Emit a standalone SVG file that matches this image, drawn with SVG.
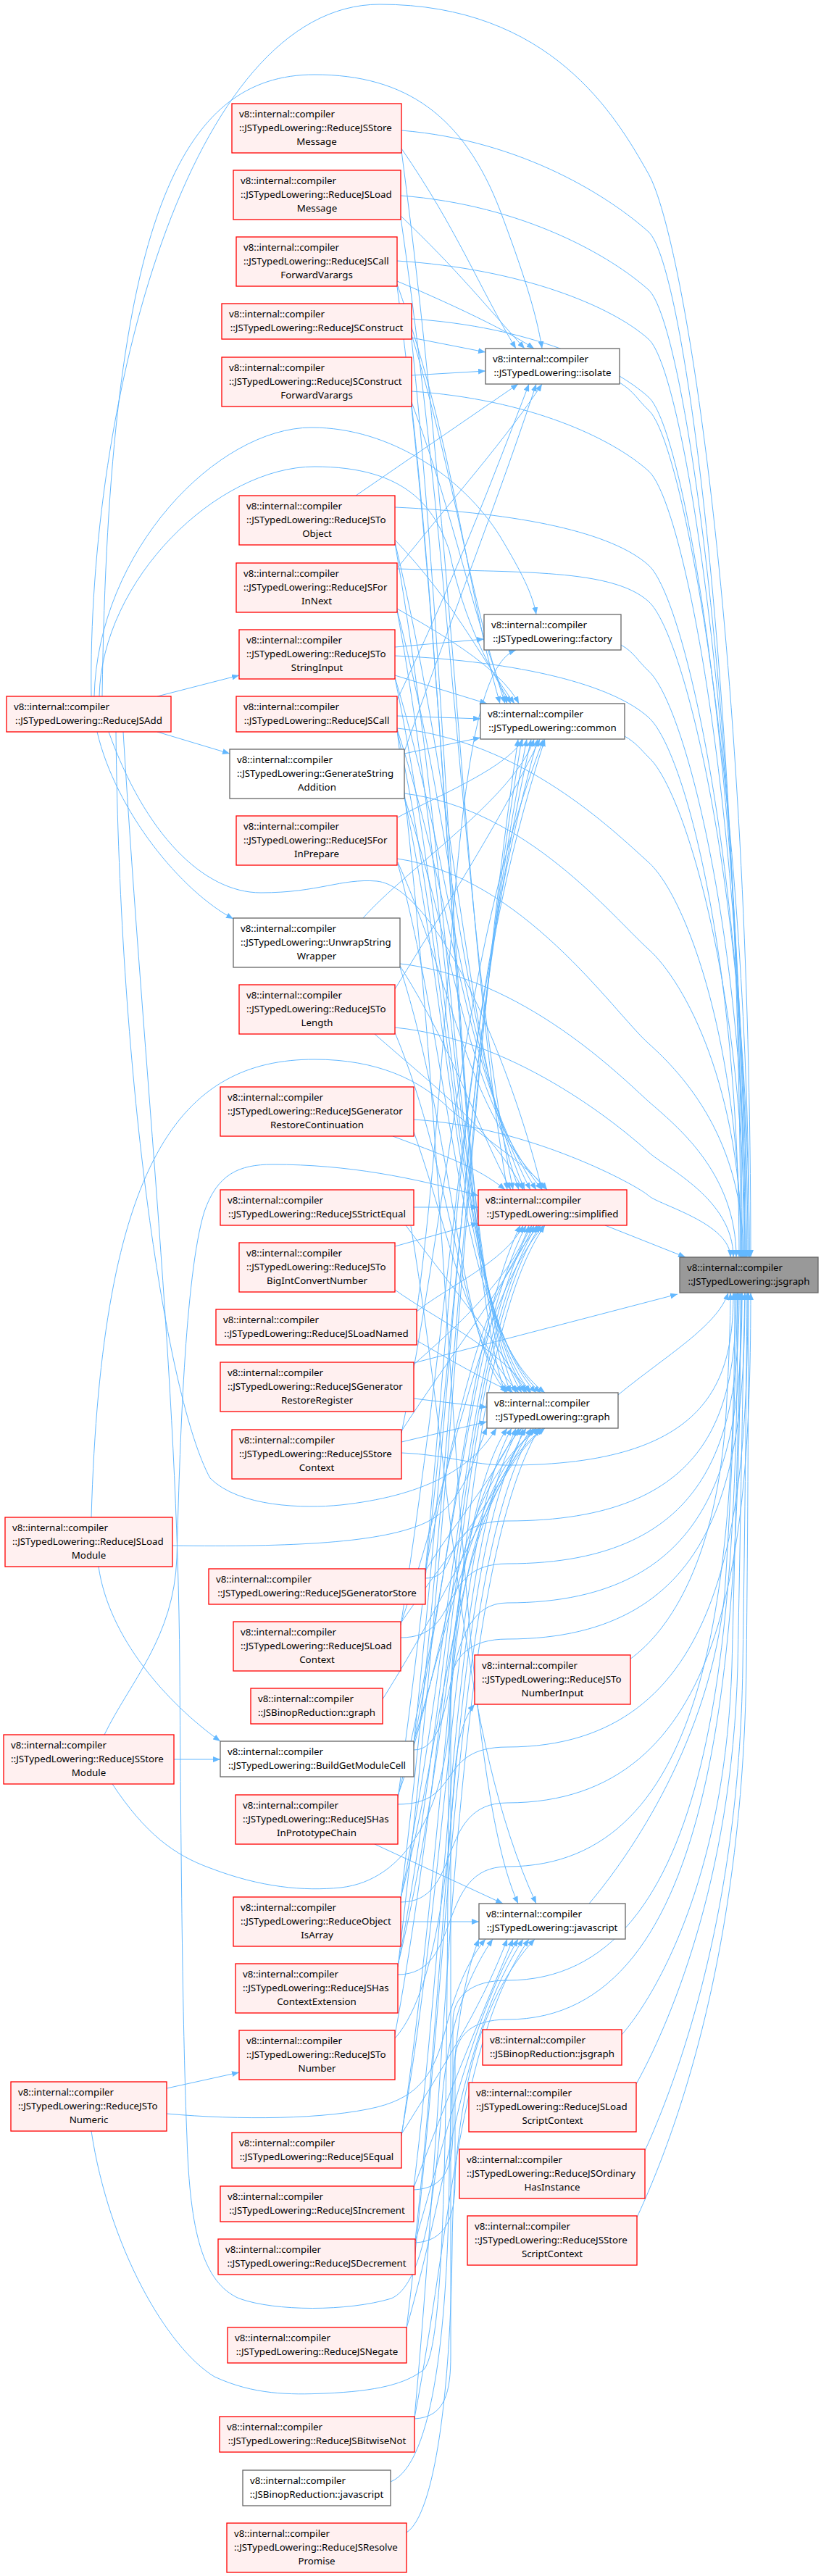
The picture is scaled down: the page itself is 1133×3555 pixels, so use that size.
<svg xmlns="http://www.w3.org/2000/svg" width="1133" height="3555" viewBox="0 0 1133 3555">
<defs>
<marker id="a" markerWidth="10" markerHeight="8" refX="10" refY="4" orient="auto" markerUnits="userSpaceOnUse"><path d="M0,0 L10,4 L0,8 z" fill="#63b8ff"/></marker>
<style>
.e path{fill:none;stroke:#63b8ff;stroke-width:1;marker-end:url(#a)}
.nr rect{fill:#fff0f0;stroke:#ff0000;stroke-width:1.3}
.ng rect{fill:#ffffff;stroke:#666666;stroke-width:1.3}
.nt rect{fill:#999999;stroke:#666666;stroke-width:1.3}
text{font-family:"Noto Sans","Liberation Sans",sans-serif;font-size:13.3px;fill:#000}
.c{text-anchor:middle}
</style>
</defs>
<rect width="1133" height="3555" fill="#ffffff"/>
<g id="edges" class="e">
<path d="M855,528 C875,540 880,552 895,566 C945,611 1034,1120 1034,1735"/>
<path d="M857,890 C875,900 880,912 895,926 C945,971 1030,1300 1030,1735"/>
<path d="M862,1016 C878,1025 885,1035 895,1045 C945,1090 1028,1370 1028,1735"/>
<path d="M835,1691 L946,1735"/>
<path d="M853,1925 C920,1870 990,1830 1005,1784"/>
<path d="M869,2290 C925,2250 990,2150 1002,1950 C1006,1880 1008,1820 1008,1784"/>
<path d="M813,2627 C870,2560 980,2400 1000,2200 C1010,2050 1015,1900 1018,1784"/>
<path d="M858,2808 C900,2760 1000,2600 1010,2300 C1015,2100 1020,1900 1024,1784"/>
<path d="M878,2876 C920,2800 1010,2600 1018,2300 C1022,2100 1025,1900 1028,1784"/>
<path d="M890,2968 C930,2880 1020,2650 1025,2300 C1028,2100 1030,1900 1031,1784"/>
<path d="M879,3060 C930,2950 1025,2700 1030,2300 C1032,2100 1033,1900 1033,1784"/>
<path d="M126,961 C120,560 260,6 524,6 C760,6 850,160 895,240 C945,330 1036,900 1036,1735"/>
<path d="M141,961 C150,300 250,103 434,103 C560,103 640,160 690,290 C720,370 740,430 748,481"/>
<path d="M130,961 C135,760 300,590 430,590 C540,590 640,660 690,740 C720,790 735,820 740,848"/>
<path d="M137,961 C140,800 300,644 434,644 C560,644 600,700 620,760 C640,860 680,930 705,971"/>
<path d="M217,961 L330,932"/>
<path d="M217,1010 L317,1040"/>
<path d="M134,1010 C160,1120 250,1230 322,1268"/>
<path d="M150,1010 C200,1150 280,1232 360,1232 C440,1232 470,1212 520,1216 C600,1225 700,1450 748,1642"/>
<path d="M160,1010 C165,1500 230,1930 290,2040 C330,2080 420,2082 470,2077 C580,2065 650,2030 685,1971"/>
<path d="M170,1010 C200,1500 245,1900 248,2300 C250,2600 252,2800 258,2950 C262,3080 280,3150 330,3172 C380,3190 480,3190 540,3172 C580,3155 600,3050 610,2900 C618,2790 650,2720 680,2676"/>
<path d="M136,2162 C150,2260 230,2350 304,2403"/>
<path d="M126,2094 C140,1600 250,1462 434,1462 C520,1462 580,1490 620,1530 C680,1580 730,1610 755,1642"/>
<path d="M238,2133 C400,2135 530,2130 590,2100 C640,2075 655,2010 672,1970"/>
<path d="M240,2428 L304,2428"/>
<path d="M144,2394 C180,2320 240,2260 244,2150 C248,2000 255,1760 282,1672 C300,1620 330,1607 376,1607 C480,1607 570,1625 660,1650"/>
<path d="M155,2462 C200,2530 240,2560 290,2578 C360,2605 420,2610 470,2605 C560,2595 610,2500 620,2380 C630,2200 660,2040 750,1971"/>
<path d="M230,2882 L330,2860"/>
<path d="M230,2917 C330,2926 450,2925 520,2908 C580,2893 600,2860 615,2800 C630,2740 650,2700 670,2676"/>
<path d="M126,2941 C150,3100 230,3240 296,3280 C350,3305 400,3305 448,3303 C520,3300 560,3290 585,3270 C620,3230 615,2800 620,2400 C623,2200 650,2050 720,1971"/>
<path d="M554,180 C724,194 845,275 895,320 C945,365 1022,957 1022,1735"/>
<path d="M553,270 C724,283 845,355 895,400 C945,445 1024,1001 1024,1735"/>
<path d="M548,360 C721,371 845,423 895,468 C945,513 1026,1038 1026,1735"/>
<path d="M568,440 C731,451 845,503 895,548 C945,593 1028,1082 1028,1735"/>
<path d="M568,540 C731,551 845,605 895,650 C945,695 1030,1138 1030,1735"/>
<path d="M545,700 C720,708 845,735 895,780 C945,825 1032,1210 1032,1735"/>
<path d="M548,785 C721,790 845,785 895,830 C945,875 1034,1237 1034,1735"/>
<path d="M545,905 C720,913 845,945 895,990 C945,1035 1020,1325 1020,1735"/>
<path d="M548,1005 C721,1023 845,1145 895,1190 C945,1235 1022,1435 1022,1735"/>
<path d="M558,1095 C726,1116 845,1265 895,1310 C945,1355 1024,1501 1024,1735"/>
<path d="M548,1185 C721,1210 845,1395 895,1440 C944,1484 1026,1573 1026,1735"/>
<path d="M552,1330 C723,1349 859,1488 895,1520 C931,1552 1016,1617 1016,1735"/>
<path d="M545,1418 C720,1435 871,1568 895,1590 C919,1612 1012,1655 1012,1735"/>
<path d="M571,1545 C733,1555 881,1637 895,1650 C909,1663 1008,1688 1008,1735"/>
<path d="M571,1881 L935,1786"/>
<path d="M554,2005 C620,2008 650,2022 700,2022 C982,2022 1012,1903 1012,1784"/>
<path d="M587,2178 C640,2178 600,2099 700,2099 C986,2099 1016,1942 1016,1784"/>
<path d="M553,2260 C640,2260 600,2158 700,2158 C990,2158 1020,1971 1020,1784"/>
<path d="M571,2415 C640,2415 600,2212 700,2212 C994,2212 1024,1998 1024,1784"/>
<path d="M572,3338 C615,3336 622,3300 622,3250 L622,2330 C622,2285 650,2262 700,2262 C998,2262 1028,2023 1028,1784"/>
<path d="M549,2490 C640,2490 600,2411 700,2411 C1002,2411 1032,2098 1032,1784"/>
<path d="M553,2625 C640,2625 600,2488 700,2488 C1006,2488 1036,2136 1036,1784"/>
<path d="M549,2725 C640,2725 600,2576 700,2576 C984,2576 1014,2180 1014,1784"/>
<path d="M571,3022 C615,3020 625,2990 625,2940 L625,2790 C625,2755 650,2733 700,2733 C988,2733 1018,2258 1018,1784"/>
<path d="M573,3095 C615,3093 628,3060 628,3010 L628,2845 C628,2810 650,2787 700,2787 C992,2787 1022,2286 1022,1784"/>
<path d="M554,205 C630,315 662,398 712,481"/>
<path d="M553,298 C630,371 674,426 724,481"/>
<path d="M548,388 C600,410 690,450 737,481"/>
<path d="M568,466 L670,486"/>
<path d="M568,518 L670,512"/>
<path d="M491,684 L715,530"/>
<path d="M549,783 C630,682 698,606 748,530"/>
<path d="M548,966 C630,792 680,661 730,530"/>
<path d="M558,1037 C630,834 690,682 740,530"/>
<path d="M545,893 L668,882"/>
<path d="M575,1810 C630,1400 620,930 712,897"/>
<path d="M548,392 C630,624 640,797 690,971"/>
<path d="M568,462 C630,668 647,819 697,971"/>
<path d="M568,555 C630,721 650,846 700,971"/>
<path d="M545,745 C630,835 660,903 710,971"/>
<path d="M548,840 C600,870 690,920 716,971"/>
<path d="M545,932 L672,971"/>
<path d="M548,988 L663,992"/>
<path d="M558,1040 L663,1018"/>
<path d="M549,1128 C600,1100 700,1060 722,1020"/>
<path d="M501,1267 C560,1200 710,1100 737,1020"/>
<path d="M545,1365 C630,1227 695,1124 745,1020"/>
<path d="M554,1978 C630,1595 640,1307 750,1020"/>
<path d="M587,2168 C630,1709 640,1364 752,1020"/>
<path d="M553,2243 C630,1754 640,1387 742,1020"/>
<path d="M571,2406 C630,1852 640,1436 733,1020"/>
<path d="M549,2482 C630,1897 640,1459 727,1020"/>
<path d="M553,2622 C630,1981 640,1501 720,1020"/>
<path d="M549,2715 C630,2037 640,1529 715,1020"/>
<path d="M554,208 C630,782 640,1283 700,1642"/>
<path d="M553,300 C630,837 640,1306 708,1642"/>
<path d="M545,748 C630,1106 640,1418 716,1642"/>
<path d="M548,842 C630,1162 640,1442 724,1642"/>
<path d="M545,935 C630,1218 640,1465 732,1642"/>
<path d="M548,1006 C630,1260 640,1483 740,1642"/>
<path d="M558,1100 C630,1317 640,1506 748,1642"/>
<path d="M549,1190 C630,1371 640,1529 755,1642"/>
<path d="M552,1333 C630,1457 655,1549 705,1642"/>
<path d="M517,1427 C600,1500 680,1560 722,1642"/>
<path d="M542,1568 C600,1590 660,1610 697,1642"/>
<path d="M571,1666 L660,1666"/>
<path d="M545,1720 L660,1688"/>
<path d="M575,1810 C610,1780 700,1740 722,1691"/>
<path d="M571,1883 C620,1840 710,1760 730,1691"/>
<path d="M554,1975 C628,1861 697,1776 737,1691"/>
<path d="M587,2166 C628,1976 660,1786 744,1691"/>
<path d="M553,2241 C628,2021 660,1801 750,1691"/>
<path d="M571,2404 C628,2119 650,1834 718,1691"/>
<path d="M549,2480 C628,2164 645,1850 726,1691"/>
<path d="M553,2620 C628,2248 640,1860 734,1691"/>
<path d="M549,2713 C628,2304 636,1860 741,1691"/>
<path d="M545,2808 C628,2361 634,1860 746,1691"/>
<path d="M554,2948 C628,2445 632,1860 752,1691"/>
<path d="M548,395 C628,1006 632,1739 697,1922"/>
<path d="M568,468 C628,1048 632,1747 705,1922"/>
<path d="M568,558 C628,1104 632,1758 712,1922"/>
<path d="M545,750 C628,1219 632,1781 720,1922"/>
<path d="M548,843 C628,1275 632,1793 727,1922"/>
<path d="M545,936 C628,1330 632,1804 733,1922"/>
<path d="M548,1008 C628,1374 632,1812 740,1922"/>
<path d="M558,1101 C628,1429 632,1823 746,1922"/>
<path d="M549,1192 C628,1484 632,1834 752,1922"/>
<path d="M552,1335 C628,1570 632,1852 700,1922"/>
<path d="M545,1425 C628,1624 635,1862 708,1922"/>
<path d="M571,1562 C620,1700 645,1850 716,1922"/>
<path d="M560,1691 C610,1760 680,1840 724,1922"/>
<path d="M545,1780 C600,1820 690,1860 731,1922"/>
<path d="M575,1850 C610,1870 660,1900 704,1920"/>
<path d="M571,1930 L672,1942"/>
<path d="M554,1990 L672,1962"/>
<path d="M587,2168 C628,2100 690,2030 712,1971"/>
<path d="M553,2240 C628,2130 702,2050 722,1971"/>
<path d="M528,2345 C622,2195 680,2060 733,1971"/>
<path d="M571,2404 C622,2231 660,2037 740,1971"/>
<path d="M549,2478 C622,2275 626,2047 746,1971"/>
<path d="M553,2619 C622,2360 626,2068 752,1971"/>
<path d="M549,2712 C622,2416 626,2082 700,1971"/>
<path d="M554,2946 C622,2556 626,2117 706,1971"/>
<path d="M571,3018 C622,2599 626,2128 716,1971"/>
<path d="M573,3092 C622,2644 626,2139 726,1971"/>
<path d="M561,3213 C622,2716 626,2157 736,1971"/>
<path d="M572,3336 C622,2790 626,2176 744,1971"/>
<path d="M548,1008 C628,1656 626,2433 715,2627"/>
<path d="M567,1692 C628,2066 632,2393 740,2627"/>
<path d="M517,2545 L694,2627"/>
<path d="M553,2652 L661,2652"/>
<path d="M554,2945 C622,2837 670,2757 700,2676"/>
<path d="M571,3019 C622,2882 665,2779 708,2676"/>
<path d="M573,3093 C622,2926 655,2780 715,2676"/>
<path d="M561,3213 C622,2998 636,2810 722,2676"/>
<path d="M572,3337 C622,3073 632,2820 730,2676"/>
<path d="M539,3425 C600,3400 618,3200 620,3000 C622,2850 635,2740 661,2676"/>
<path d="M561,3495 C600,3470 622,3300 624,3100 C626,2900 660,2760 738,2676"/>
<path d="M545,2813 C610,2740 622,2520 628,2440 C632,2400 640,2370 655,2352"/>
</g>
<g id="jsgraph" class="nt"><rect x="938" y="1735" width="191" height="49"/><text x="948" y="1754">v8::internal::compiler</text><text class="c" x="1033.5" y="1773">::JSTypedLowering::jsgraph</text></g>
<g id="isolate" class="ng"><rect x="670" y="481" width="185" height="49"/><text x="680" y="500">v8::internal::compiler</text><text class="c" x="762.5" y="519">::JSTypedLowering::isolate</text></g>
<g id="factory" class="ng"><rect x="668" y="848" width="189" height="49"/><text x="678" y="867">v8::internal::compiler</text><text class="c" x="762.5" y="886">::JSTypedLowering::factory</text></g>
<g id="common" class="ng"><rect x="663" y="971" width="199" height="49"/><text x="673" y="990">v8::internal::compiler</text><text class="c" x="762.5" y="1009">::JSTypedLowering::common</text></g>
<g id="simplified" class="nr"><rect x="660" y="1642" width="205" height="49"/><text x="670" y="1661">v8::internal::compiler</text><text class="c" x="762.5" y="1680">::JSTypedLowering::simplified</text></g>
<g id="graph" class="ng"><rect x="672" y="1922" width="181" height="49"/><text x="682" y="1941">v8::internal::compiler</text><text class="c" x="762.5" y="1960">::JSTypedLowering::graph</text></g>
<g id="toNumberInput" class="nr"><rect x="655" y="2284" width="215" height="68"/><text x="665" y="2303">v8::internal::compiler</text><text x="665" y="2322">::JSTypedLowering::ReduceJSTo</text><text class="c" x="762.5" y="2341">NumberInput</text></g>
<g id="javascript" class="ng"><rect x="661" y="2627" width="202" height="49"/><text x="671" y="2646">v8::internal::compiler</text><text class="c" x="762" y="2665">::JSTypedLowering::javascript</text></g>
<g id="binopJsgraph" class="nr"><rect x="666" y="2801" width="192" height="49"/><text x="676" y="2820">v8::internal::compiler</text><text class="c" x="762" y="2839">::JSBinopReduction::jsgraph</text></g>
<g id="loadScriptContext" class="nr"><rect x="647" y="2874" width="231" height="68"/><text x="657" y="2893">v8::internal::compiler</text><text x="657" y="2912">::JSTypedLowering::ReduceJSLoad</text><text class="c" x="762.5" y="2931">ScriptContext</text></g>
<g id="ordinaryHasInstance" class="nr"><rect x="634" y="2966" width="256" height="68"/><text x="644" y="2985">v8::internal::compiler</text><text x="644" y="3004">::JSTypedLowering::ReduceJSOrdinary</text><text class="c" x="762" y="3023">HasInstance</text></g>
<g id="storeScriptContext" class="nr"><rect x="645" y="3058" width="234" height="68"/><text x="655" y="3077">v8::internal::compiler</text><text x="655" y="3096">::JSTypedLowering::ReduceJSStore</text><text class="c" x="762" y="3115">ScriptContext</text></g>
<g id="jsAdd" class="nr"><rect x="9" y="961" width="227" height="49"/><text x="19" y="980">v8::internal::compiler</text><text class="c" x="122.5" y="999">::JSTypedLowering::ReduceJSAdd</text></g>
<g id="loadModule" class="nr"><rect x="7" y="2094" width="231" height="68"/><text x="17" y="2113">v8::internal::compiler</text><text x="17" y="2132">::JSTypedLowering::ReduceJSLoad</text><text class="c" x="122.5" y="2151">Module</text></g>
<g id="storeModule" class="nr"><rect x="5" y="2394" width="235" height="68"/><text x="15" y="2413">v8::internal::compiler</text><text x="15" y="2432">::JSTypedLowering::ReduceJSStore</text><text class="c" x="122.5" y="2451">Module</text></g>
<g id="toNumeric" class="nr"><rect x="15" y="2873" width="215" height="68"/><text x="25" y="2892">v8::internal::compiler</text><text x="25" y="2911">::JSTypedLowering::ReduceJSTo</text><text class="c" x="122.5" y="2930">Numeric</text></g>
<g id="storeMessage" class="nr"><rect x="320" y="143" width="234" height="68"/><text x="330" y="162">v8::internal::compiler</text><text x="330" y="181">::JSTypedLowering::ReduceJSStore</text><text class="c" x="437" y="200">Message</text></g>
<g id="loadMessage" class="nr"><rect x="322" y="235" width="231" height="68"/><text x="332" y="254">v8::internal::compiler</text><text x="332" y="273">::JSTypedLowering::ReduceJSLoad</text><text class="c" x="437.5" y="292">Message</text></g>
<g id="callForwardVarargs" class="nr"><rect x="326" y="327" width="222" height="68"/><text x="336" y="346">v8::internal::compiler</text><text x="336" y="365">::JSTypedLowering::ReduceJSCall</text><text class="c" x="437" y="384">ForwardVarargs</text></g>
<g id="construct" class="nr"><rect x="306" y="419" width="262" height="49"/><text x="316" y="438">v8::internal::compiler</text><text class="c" x="437" y="457">::JSTypedLowering::ReduceJSConstruct</text></g>
<g id="constructForwardVarargs" class="nr"><rect x="306" y="493" width="262" height="68"/><text x="316" y="512">v8::internal::compiler</text><text x="316" y="531">::JSTypedLowering::ReduceJSConstruct</text><text class="c" x="437" y="550">ForwardVarargs</text></g>
<g id="toObject" class="nr"><rect x="330" y="684" width="215" height="68"/><text x="340" y="703">v8::internal::compiler</text><text x="340" y="722">::JSTypedLowering::ReduceJSTo</text><text class="c" x="437.5" y="741">Object</text></g>
<g id="forInNext" class="nr"><rect x="326" y="777" width="222" height="68"/><text x="336" y="796">v8::internal::compiler</text><text x="336" y="815">::JSTypedLowering::ReduceJSFor</text><text class="c" x="437" y="834">InNext</text></g>
<g id="toStringInput" class="nr"><rect x="330" y="869" width="215" height="68"/><text x="340" y="888">v8::internal::compiler</text><text x="340" y="907">::JSTypedLowering::ReduceJSTo</text><text class="c" x="437.5" y="926">StringInput</text></g>
<g id="jsCall" class="nr"><rect x="326" y="961" width="222" height="49"/><text x="336" y="980">v8::internal::compiler</text><text class="c" x="437" y="999">::JSTypedLowering::ReduceJSCall</text></g>
<g id="generateStringAddition" class="ng"><rect x="317" y="1034" width="241" height="68"/><text x="327" y="1053">v8::internal::compiler</text><text x="327" y="1072">::JSTypedLowering::GenerateString</text><text class="c" x="437.5" y="1091">Addition</text></g>
<g id="forInPrepare" class="nr"><rect x="326" y="1126" width="222" height="68"/><text x="336" y="1145">v8::internal::compiler</text><text x="336" y="1164">::JSTypedLowering::ReduceJSFor</text><text class="c" x="437" y="1183">InPrepare</text></g>
<g id="unwrapStringWrapper" class="ng"><rect x="322" y="1267" width="230" height="68"/><text x="332" y="1286">v8::internal::compiler</text><text x="332" y="1305">::JSTypedLowering::UnwrapString</text><text class="c" x="437" y="1324">Wrapper</text></g>
<g id="toLength" class="nr"><rect x="330" y="1359" width="215" height="68"/><text x="340" y="1378">v8::internal::compiler</text><text x="340" y="1397">::JSTypedLowering::ReduceJSTo</text><text class="c" x="437.5" y="1416">Length</text></g>
<g id="genRestoreContinuation" class="nr"><rect x="304" y="1500" width="267" height="68"/><text x="314" y="1519">v8::internal::compiler</text><text x="314" y="1538">::JSTypedLowering::ReduceJSGenerator</text><text class="c" x="437.5" y="1557">RestoreContinuation</text></g>
<g id="strictEqual" class="nr"><rect x="304" y="1642" width="267" height="49"/><text x="314" y="1661">v8::internal::compiler</text><text class="c" x="437.5" y="1680">::JSTypedLowering::ReduceJSStrictEqual</text></g>
<g id="toBigIntConvertNumber" class="nr"><rect x="330" y="1715" width="215" height="68"/><text x="340" y="1734">v8::internal::compiler</text><text x="340" y="1753">::JSTypedLowering::ReduceJSTo</text><text class="c" x="437.5" y="1772">BigIntConvertNumber</text></g>
<g id="loadNamed" class="nr"><rect x="298" y="1807" width="277" height="49"/><text x="308" y="1826">v8::internal::compiler</text><text class="c" x="436.5" y="1845">::JSTypedLowering::ReduceJSLoadNamed</text></g>
<g id="genRestoreRegister" class="nr"><rect x="304" y="1880" width="267" height="68"/><text x="314" y="1899">v8::internal::compiler</text><text x="314" y="1918">::JSTypedLowering::ReduceJSGenerator</text><text class="c" x="437.5" y="1937">RestoreRegister</text></g>
<g id="storeContext" class="nr"><rect x="320" y="1973" width="234" height="68"/><text x="330" y="1992">v8::internal::compiler</text><text x="330" y="2011">::JSTypedLowering::ReduceJSStore</text><text class="c" x="437" y="2030">Context</text></g>
<g id="generatorStore" class="nr"><rect x="288" y="2165" width="299" height="49"/><text x="298" y="2184">v8::internal::compiler</text><text class="c" x="437.5" y="2203">::JSTypedLowering::ReduceJSGeneratorStore</text></g>
<g id="loadContext" class="nr"><rect x="322" y="2238" width="231" height="68"/><text x="332" y="2257">v8::internal::compiler</text><text x="332" y="2276">::JSTypedLowering::ReduceJSLoad</text><text class="c" x="437.5" y="2295">Context</text></g>
<g id="binopGraph" class="nr"><rect x="346" y="2330" width="182" height="49"/><text x="356" y="2349">v8::internal::compiler</text><text class="c" x="437" y="2368">::JSBinopReduction::graph</text></g>
<g id="buildGetModuleCell" class="ng"><rect x="304" y="2403" width="267" height="49"/><text x="314" y="2422">v8::internal::compiler</text><text class="c" x="437.5" y="2441">::JSTypedLowering::BuildGetModuleCell</text></g>
<g id="hasInPrototypeChain" class="nr"><rect x="325" y="2477" width="224" height="68"/><text x="335" y="2496">v8::internal::compiler</text><text x="335" y="2515">::JSTypedLowering::ReduceJSHas</text><text class="c" x="437" y="2534">InPrototypeChain</text></g>
<g id="objectIsArray" class="nr"><rect x="322" y="2618" width="231" height="68"/><text x="332" y="2637">v8::internal::compiler</text><text x="332" y="2656">::JSTypedLowering::ReduceObject</text><text class="c" x="437.5" y="2675">IsArray</text></g>
<g id="hasContextExtension" class="nr"><rect x="325" y="2710" width="224" height="68"/><text x="335" y="2729">v8::internal::compiler</text><text x="335" y="2748">::JSTypedLowering::ReduceJSHas</text><text class="c" x="437" y="2767">ContextExtension</text></g>
<g id="toNumber" class="nr"><rect x="330" y="2802" width="215" height="68"/><text x="340" y="2821">v8::internal::compiler</text><text x="340" y="2840">::JSTypedLowering::ReduceJSTo</text><text class="c" x="437.5" y="2859">Number</text></g>
<g id="jsEqual" class="nr"><rect x="320" y="2943" width="234" height="49"/><text x="330" y="2962">v8::internal::compiler</text><text class="c" x="437" y="2981">::JSTypedLowering::ReduceJSEqual</text></g>
<g id="increment" class="nr"><rect x="304" y="3017" width="267" height="49"/><text x="314" y="3036">v8::internal::compiler</text><text class="c" x="437.5" y="3055">::JSTypedLowering::ReduceJSIncrement</text></g>
<g id="decrement" class="nr"><rect x="301" y="3090" width="272" height="49"/><text x="311" y="3109">v8::internal::compiler</text><text class="c" x="437" y="3128">::JSTypedLowering::ReduceJSDecrement</text></g>
<g id="negate" class="nr"><rect x="314" y="3212" width="247" height="49"/><text x="324" y="3231">v8::internal::compiler</text><text class="c" x="437.5" y="3250">::JSTypedLowering::ReduceJSNegate</text></g>
<g id="bitwiseNot" class="nr"><rect x="303" y="3335" width="269" height="49"/><text x="313" y="3354">v8::internal::compiler</text><text class="c" x="437.5" y="3373">::JSTypedLowering::ReduceJSBitwiseNot</text></g>
<g id="binopJavascript" class="ng"><rect x="335" y="3409" width="204" height="49"/><text x="345" y="3428">v8::internal::compiler</text><text class="c" x="437" y="3447">::JSBinopReduction::javascript</text></g>
<g id="resolvePromise" class="nr"><rect x="313" y="3482" width="248" height="68"/><text x="323" y="3501">v8::internal::compiler</text><text x="323" y="3520">::JSTypedLowering::ReduceJSResolve</text><text class="c" x="437" y="3539">Promise</text></g>
</svg>
